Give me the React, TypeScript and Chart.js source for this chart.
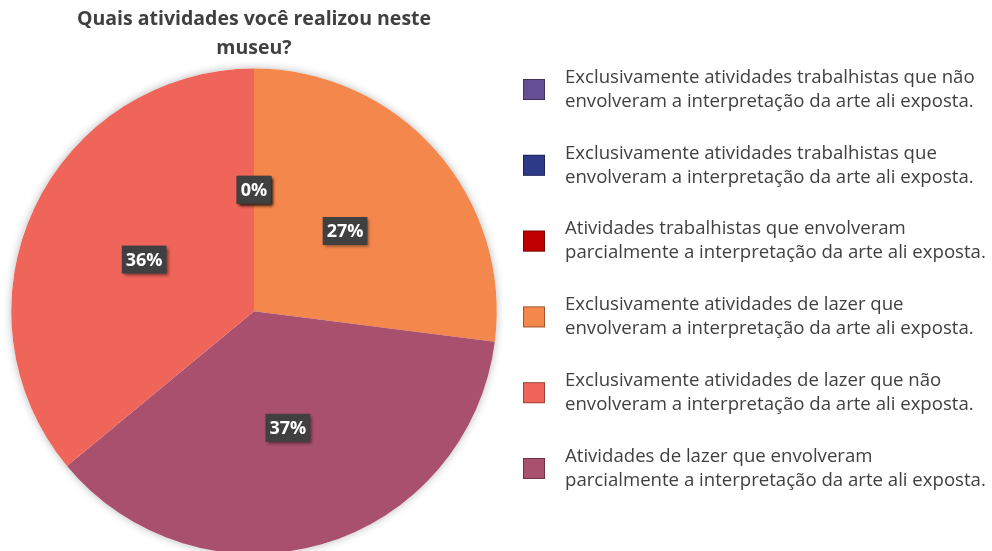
import React, { useEffect, useRef } from "react";
import { Chart, registerables } from "chart.js";

Chart.register(...registerables);

const TITLE = ["Quais atividades você realizou neste", "museu?"];

const categories: string[][] = [
  ["Exclusivamente atividades trabalhistas que não", "envolveram a interpretação da arte ali exposta."],
  ["Exclusivamente atividades trabalhistas que", "envolveram a interpretação da arte ali exposta."],
  ["Atividades trabalhistas que envolveram", "parcialmente a interpretação da arte ali exposta."],
  ["Exclusivamente atividades de lazer que", "envolveram a interpretação da arte ali exposta."],
  ["Exclusivamente atividades de lazer que não", "envolveram a interpretação da arte ali exposta."],
  ["Atividades de lazer que envolveram", "parcialmente a interpretação da arte ali exposta."],
];

const percentages = [0, 0, 0, 27, 36, 37];

const colors = ["#664E94", "#2D3A87", "#C00000", "#F4874B", "#F06559", "#A8506E"];

// order in which the slices are drawn clockwise from 12 o'clock
const sliceOrder = [0, 1, 2, 3, 5, 4];

const FONT = "'Open Sans', Lato, sans-serif";
const TEXT_COLOR = "#404040";

const shadowPlugin = {
  id: "pieShadow",
  beforeDatasetsDraw(chart: any) {
    const meta = chart.getDatasetMeta(0);
    const arc = meta.data[0];
    if (!arc) return;
    const { x, y, outerRadius } = arc.getProps(["x", "y", "outerRadius"], true);
    const ctx = chart.ctx;
    ctx.save();
    ctx.shadowColor = "rgba(0,0,0,0.28)";
    ctx.shadowBlur = 9;
    ctx.shadowOffsetX = 0;
    ctx.shadowOffsetY = 0;
    ctx.fillStyle = "#ffffff";
    ctx.beginPath();
    ctx.arc(x, y, outerRadius, 0, Math.PI * 2);
    ctx.fill();
    ctx.restore();
  },
};

const labelPlugin = {
  id: "pieLabels",
  afterDatasetsDraw(chart: any) {
    const ctx = chart.ctx;
    const meta = chart.getDatasetMeta(0);
    const data = chart.data.datasets[0].data as number[];
    ctx.save();
    ctx.font = `bold 18px ${FONT}`;
    ctx.textAlign = "center";
    ctx.textBaseline = "middle";
    meta.data.forEach((arc: any, i: number) => {
      const p = arc.tooltipPosition();
      const text = `${data[i]}%`;
      const w = ctx.measureText(text).width + 8;
      const h = 28;
      ctx.save();
      ctx.shadowColor = "rgba(0,0,0,0.45)";
      ctx.shadowBlur = 3;
      ctx.shadowOffsetX = 2;
      ctx.shadowOffsetY = 2;
      ctx.fillStyle = "#404040";
      ctx.fillRect(p.x - w / 2, p.y - h / 2, w, h);
      ctx.restore();
      ctx.fillStyle = "#ffffff";
      ctx.fillText(text, p.x, p.y + 1);
    });
    ctx.restore();
  },
};

const legendPlugin = {
  id: "sideLegend",
  afterDraw(chart: any) {
    const ctx = chart.ctx;
    ctx.save();
    ctx.font = `18.6px ${FONT}`;
    ctx.textAlign = "left";
    ctx.textBaseline = "middle";
    categories.forEach((lines, i) => {
      const cy = 89.5 + i * 75.8;
      ctx.fillStyle = colors[i];
      ctx.fillRect(523, cy - 10.5, 22, 21);
      ctx.strokeStyle = "rgba(0,0,0,0.35)";
      ctx.lineWidth = 1;
      ctx.strokeRect(523.5, cy - 10, 21, 20);
      ctx.fillStyle = TEXT_COLOR;
      ctx.fillText(lines[0], 565, cy - 12);
      ctx.fillText(lines[1], 565, cy + 12);
    });
    ctx.restore();
  },
};

export default function App() {
  const ref = useRef<HTMLCanvasElement | null>(null);
  useEffect(() => {
    if (!ref.current) return;
    const labels = sliceOrder.map((i) => categories[i].join(" "));
    const chart = new Chart(ref.current, {
      type: "pie",
      data: {
        labels,
        datasets: [
          {
            data: sliceOrder.map((i) => percentages[i]),
            backgroundColor: sliceOrder.map((i) => colors[i]),
            borderWidth: 0,
          },
        ],
      },
      options: {
        animation: false,
        responsive: false,
        maintainAspectRatio: false,
        layout: { padding: { left: 10, right: 494, top: 0, bottom: 66 } },
        plugins: {
          legend: { display: false },
          tooltip: { enabled: false },
          title: {
            display: true,
            text: TITLE,
            color: TEXT_COLOR,
            font: { family: FONT, size: 19.5, weight: "bold", lineHeight: 1.5 },
            padding: { top: 5, bottom: 5 },
          },
        },
      },
      plugins: [shadowPlugin, labelPlugin, legendPlugin],
    });
    return () => chart.destroy();
  }, []);
  return (
    <div
      style={{
        position: "fixed",
        left: 0,
        top: 0,
        width: 992,
        height: 551,
        overflow: "hidden",
        background: "#ffffff",
      }}
    >
      <canvas ref={ref} width={992} height={620} style={{ display: "block" }} />
    </div>
  );
}
